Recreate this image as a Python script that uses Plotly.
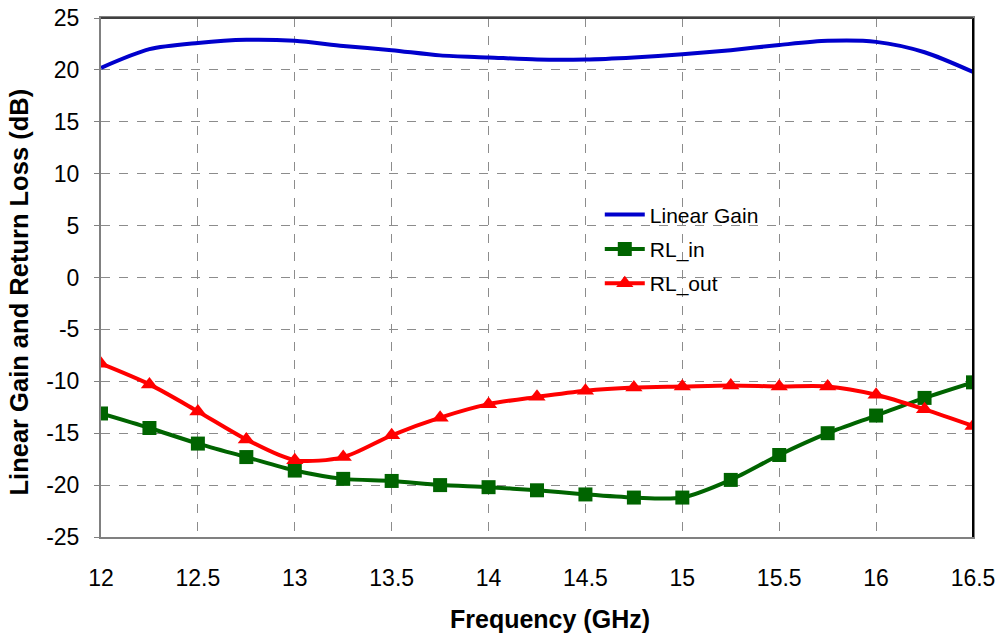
import plotly.graph_objects as go

freq = [12, 12.25, 12.5, 12.75, 13, 13.25, 13.5, 13.75, 14, 14.25, 14.5, 14.75, 15, 15.25, 15.5, 15.75, 16, 16.25, 16.5]
linear_gain = [20.2, 22.0, 22.6, 22.9, 22.8, 22.3, 21.9, 21.4, 21.2, 21.0, 21.0, 21.2, 21.5, 21.9, 22.4, 22.8, 22.7, 21.7, 19.8]
rl_in = [-13.1, -14.5, -16.0, -17.3, -18.6, -19.4, -19.6, -20.0, -20.2, -20.5, -20.9, -21.2, -21.2, -19.5, -17.1, -15.0, -13.3, -11.6, -10.1]
rl_out = [-8.3, -10.3, -12.9, -15.6, -17.6, -17.3, -15.2, -13.5, -12.2, -11.5, -10.9, -10.6, -10.5, -10.4, -10.5, -10.5, -11.3, -12.7, -14.3]

x_ticks = [12, 12.5, 13, 13.5, 14, 14.5, 15, 15.5, 16, 16.5]
y_ticks = [25, 20, 15, 10, 5, 0, -5, -10, -15, -20, -25]
x_title = "<b>Frequency (GHz)</b>"
y_title = "<b>Linear Gain and Return Loss (dB)</b>"

fig = go.Figure()
fig.add_trace(go.Scatter(x=freq, y=linear_gain, name="Linear Gain", mode="lines",
                         line=dict(color="#0000CC", width=4, shape="spline", smoothing=0.8),
                         legendgroup="a"))
fig.add_trace(go.Scatter(x=freq, y=rl_in, name="RL_in", mode="lines+markers",
                         line=dict(color="#006400", width=4, shape="spline", smoothing=0.8),
                         marker=dict(symbol="square", size=14, color="#006400"),
                         legendgroup="b"))
fig.add_trace(go.Scatter(x=freq, y=rl_out, name="RL_out", mode="lines+markers",
                         line=dict(color="#FF0000", width=4, shape="spline", smoothing=0.8),
                         marker=dict(symbol="triangle-up", size=15, color="#FF0000"),
                         legendgroup="c"))

# right/top frame
fig.add_shape(type="line", xref="paper", yref="paper", x0=1, x1=1, y0=0, y1=1,
              line=dict(color="black", width=2))
fig.add_shape(type="line", xref="paper", yref="paper", x0=0, x1=1, y0=1, y1=1,
              line=dict(color="#404040", width=2))

# axis titles as annotations (positioned like the reference)
fig.add_annotation(text=x_title, xref="paper", yref="paper", x=0.515, y=-0.158,
                   xanchor="center", yanchor="middle", showarrow=False,
                   font=dict(size=25))
fig.add_annotation(text=y_title, xref="paper", yref="paper", x=-0.0935, y=0.472,
                   xanchor="center", yanchor="middle", showarrow=False, textangle=-90,
                   font=dict(size=25.5))

fig.update_layout(
    width=1000, height=636,
    margin=dict(l=101, r=27, t=18, b=99, autoexpand=False),
    paper_bgcolor="white", plot_bgcolor="white",
    font=dict(family="Liberation Sans, Arial", size=23, color="black"),
    showlegend=True,
    legend=dict(x=0.572, y=0.66, xanchor="left", yanchor="top",
                bgcolor="rgba(0,0,0,0)", font=dict(size=21),
                traceorder="grouped", tracegroupgap=4, itemwidth=40),
    xaxis=dict(range=[12, 16.5], tickvals=x_ticks, ticktext=[str(v) for v in x_ticks],
               showgrid=True, gridcolor="#8c8c8c", griddash="dash", gridwidth=1,
               showline=True, linecolor="#808080", linewidth=2, mirror=True,
               ticks="", ticklabelstandoff=19, ticklabeloverflow="allow", zeroline=False),
    yaxis=dict(range=[-25, 25], tickvals=y_ticks, ticktext=[str(v) for v in y_ticks],
               showgrid=True, gridcolor="#8c8c8c", griddash="dash", gridwidth=1,
               showline=True, linecolor="#808080", linewidth=2, mirror=True,
               ticks="outside", ticklen=5, tickcolor="#808080", ticklabelstandoff=10,
               ticklabeloverflow="allow", zeroline=False),
)

fig.write_html("out.html", config={"displayModeBar": False},
               post_script="document.body.style.margin='0px';document.body.style.overflow='hidden';")
